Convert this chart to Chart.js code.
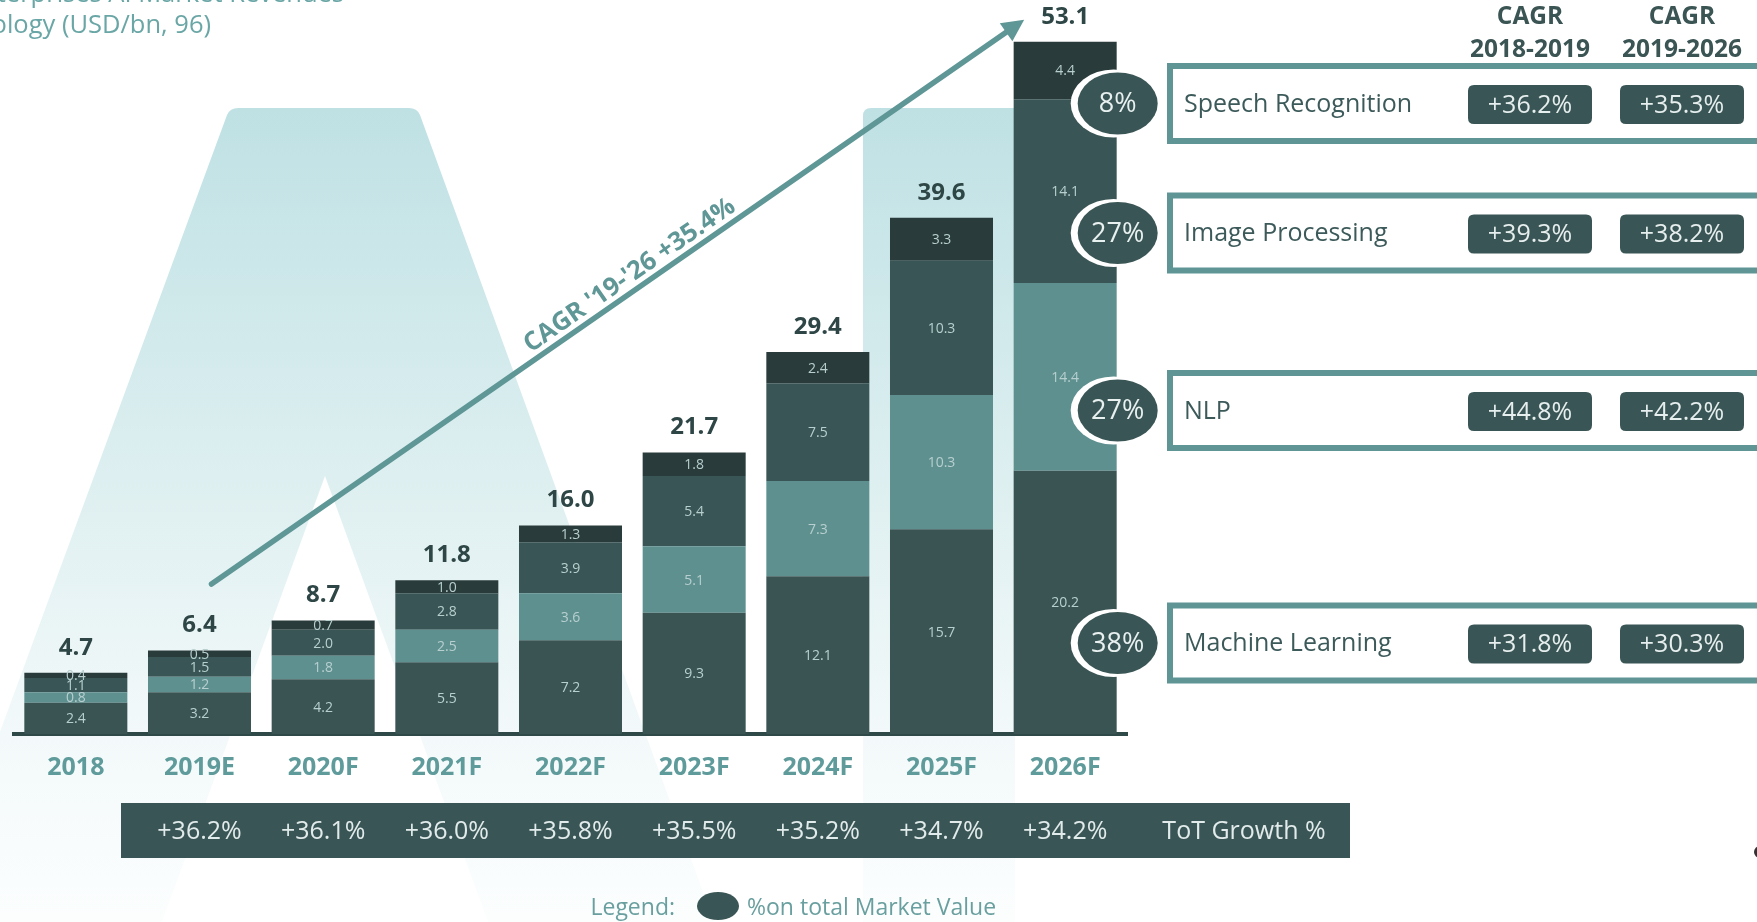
<!DOCTYPE html>
<html>
<head>
<meta charset="utf-8">
<script src="https://cdn.jsdelivr.net/npm/chart.js@4.4.1/dist/chart.umd.min.js"></script>
<style>
  html, body { margin: 0; padding: 0; background: #fff; }
  #wrap { width: 1757px; height: 922px; position: relative; overflow: hidden; }
</style>
</head>
<body>
<div id="wrap"><canvas id="market-chart" width="1757" height="922"></canvas></div>
<script>
// years on the x axis
const years = ['2018', '2019E', '2020F', '2021F', '2022F', '2023F', '2024F', '2025F', '2026F'];

// revenue per technology, USD bn (bottom to top of each stack)
const machineLearning = [2.4, 3.2, 4.2, 5.5, 7.2, 9.3, 12.1, 15.7, 20.2];
const nlp = [0.8, 1.2, 1.8, 2.5, 3.6, 5.1, 7.3, 10.3, 14.4];
const imageProcessing = [1.1, 1.5, 2.0, 2.8, 3.9, 5.4, 7.5, 10.3, 14.1];
const speechRecognition = [0.4, 0.5, 0.7, 1.0, 1.3, 1.8, 2.4, 3.3, 4.4];
const totals = [4.7, 6.4, 8.7, 11.8, 16.0, 21.7, 29.4, 39.6, 53.1];

// year over year growth (2019E .. 2026F)
const totGrowth = ['+36.2%', '+36.1%', '+36.0%', '+35.8%', '+35.5%', '+35.2%', '+34.7%', '+34.2%'];

// right hand table, top to bottom
const techNames = ['Speech Recognition', 'Image Processing', 'NLP', 'Machine Learning'];
const shares = ['8%', '27%', '27%', '38%'];
const cagr1819 = ['+36.2%', '+39.3%', '+44.8%', '+31.8%'];
const cagr1926 = ['+35.3%', '+38.2%', '+42.2%', '+30.3%'];
const cagrLabel = "CAGR '19-'26 +35.4%";

const FONT = '"Open Sans", "DejaVu Sans", sans-serif';
const DARK = '#3a5555';

function pill(ctx, x, y, w, h, r) {
  ctx.beginPath();
  ctx.moveTo(x + r, y);
  ctx.lineTo(x + w - r, y);
  ctx.quadraticCurveTo(x + w, y, x + w, y + r);
  ctx.lineTo(x + w, y + h - r);
  ctx.quadraticCurveTo(x + w, y + h, x + w - r, y + h);
  ctx.lineTo(x + r, y + h);
  ctx.quadraticCurveTo(x, y + h, x, y + h - r);
  ctx.lineTo(x, y + r);
  ctx.quadraticCurveTo(x, y, x + r, y);
  ctx.closePath();
}

// light "A" shapes behind the bars
const backdrop = {
  id: 'backdrop',
  beforeDraw(chart) {
    const ctx = chart.ctx;
    ctx.save();
    const grad = ctx.createLinearGradient(0, 108, 0, 922);
    grad.addColorStop(0, '#bfe1e4');
    grad.addColorStop(0.55, '#e4f2f3');
    grad.addColorStop(0.77, '#f3f9fa');
    grad.addColorStop(1, '#fcfefe');
    ctx.fillStyle = grad;
    ctx.beginPath();
    ctx.moveTo(-70, 922);
    ctx.lineTo(227, 115);
    ctx.quadraticCurveTo(230, 108, 238, 108);
    ctx.lineTo(409, 108);
    ctx.quadraticCurveTo(417, 108, 420, 115);
    ctx.lineTo(714, 922);
    ctx.lineTo(488, 922);
    ctx.lineTo(325, 476);
    ctx.lineTo(162, 922);
    ctx.closePath();
    ctx.fill();

    ctx.beginPath();
    ctx.moveTo(863, 922);
    ctx.lineTo(863, 116);
    ctx.quadraticCurveTo(863, 108, 871, 108);
    ctx.lineTo(1015, 108);
    ctx.lineTo(1015, 922);
    ctx.closePath();
    ctx.fill();
    ctx.restore();
  },
};

const overlay = {
  id: 'overlay',
  afterDatasetsDraw(chart) {
    const ctx = chart.ctx;
    const xs = chart.scales.x;
    const ys = chart.scales.y;
    ctx.save();
    ctx.textAlign = 'center';
    ctx.textBaseline = 'middle';

    // values inside the segments
    ctx.font = '14px ' + FONT;
    ctx.fillStyle = '#b7cfcf';
    chart.data.datasets.forEach((ds, i) => {
      chart.getDatasetMeta(i).data.forEach((bar, j) => {
        ctx.fillText(ds.data[j].toFixed(1), bar.x, (bar.y + bar.base) / 2 + 1);
      });
    });

    // totals above the bars
    const topMeta = chart.getDatasetMeta(chart.data.datasets.length - 1);
    ctx.font = 'bold 24px ' + FONT;
    ctx.fillStyle = '#2e4646';
    topMeta.data.forEach((bar, j) => {
      ctx.fillText(totals[j].toFixed(1), bar.x, bar.y - 25);
    });

    // CAGR arrow
    const sx = xs.getPixelForValue(1) + 12;
    const sy = ys.getPixelForValue(11.5);
    const ex = xs.getPixelForValue(8) - 41;
    const ey = ys.getPixelForValue(53.1) - 22;
    const a = Math.atan2(ey - sy, ex - sx);
    ctx.strokeStyle = '#5f9696';
    ctx.fillStyle = '#5f9696';
    ctx.lineWidth = 5.5;
    ctx.lineCap = 'round';
    ctx.beginPath();
    ctx.moveTo(sx, sy);
    ctx.lineTo(ex - 14 * Math.cos(a), ey - 14 * Math.sin(a));
    ctx.stroke();
    ctx.beginPath();
    ctx.moveTo(ex, ey);
    ctx.lineTo(ex - 22 * Math.cos(a) + 11 * Math.sin(a), ey - 22 * Math.sin(a) - 11 * Math.cos(a));
    ctx.lineTo(ex - 22 * Math.cos(a) - 11 * Math.sin(a), ey - 22 * Math.sin(a) + 11 * Math.cos(a));
    ctx.closePath();
    ctx.fill();

    const t = 0.525;
    const mx = sx + (ex - sx) * t + 15 * Math.sin(a);
    const my = sy + (ey - sy) * t - 15 * Math.cos(a);
    ctx.save();
    ctx.translate(mx, my);
    ctx.rotate(a);
    ctx.font = 'bold 25.5px ' + FONT;
    ctx.fillText(cagrLabel, 0, 0);
    ctx.restore();

    ctx.restore();
  },
  afterDraw(chart) {
    const ctx = chart.ctx;
    const xs = chart.scales.x;
    ctx.save();
    ctx.textBaseline = 'middle';

    // title (cropped at the top left)
    ctx.font = '25.5px ' + FONT;
    ctx.fillStyle = '#6aa6a6';
    ctx.textAlign = 'right';
    ctx.fillText('Enterprises AI Market Revenues', 344, -5);
    ctx.fillText('by Technology (USD/bn, 96)', 211, 26);

    // table on the right
    const rowY = [103.5, 233, 410.5, 643];
    const col1 = 1530;
    const col2 = 1682;
    const lastBar = chart.getDatasetMeta(0).data[8];
    const cx = lastBar.x + lastBar.width / 2;
    ctx.textAlign = 'center';
    ctx.font = 'bold 24.5px ' + FONT;
    ctx.fillStyle = '#3b5454';
    ctx.fillText('CAGR', col1, 17);
    ctx.fillText('2018-2019', col1, 50);
    ctx.fillText('CAGR', col2, 17);
    ctx.fillText('2019-2026', col2, 50);

    rowY.forEach((cy, i) => {
      ctx.lineWidth = 6;
      ctx.strokeStyle = '#5f9595';
      ctx.strokeRect(1170, cy - 37.5, 700, 75);

      ctx.textAlign = 'left';
      ctx.font = '25px ' + FONT;
      ctx.fillStyle = '#3d5a5a';
      ctx.fillText(techNames[i], 1184, cy + 1);

      ctx.fillStyle = DARK;
      pill(ctx, col1 - 62, cy - 18.5, 124, 39, 6);
      ctx.fill();
      pill(ctx, col2 - 62, cy - 18.5, 124, 39, 6);
      ctx.fill();
      ctx.textAlign = 'center';
      ctx.fillStyle = '#e6eeee';
      ctx.fillText(cagr1819[i], col1, cy + 2);
      ctx.fillText(cagr1926[i], col2, cy + 2);

      // share bubble on the 2026 bar
      ctx.fillStyle = '#ffffff';
      ctx.beginPath();
      ctx.ellipse(cx - 3, cy, 43, 34, 0, 0, Math.PI * 2);
      ctx.fill();
      ctx.fillStyle = DARK;
      ctx.beginPath();
      ctx.ellipse(cx + 1, cy, 40, 31, 0, 0, Math.PI * 2);
      ctx.fill();
      ctx.fillStyle = '#e8f0f0';
      ctx.font = '27px ' + FONT;
      ctx.fillText(shares[i], cx + 1, cy + 1);
    });

    // growth band
    ctx.fillStyle = DARK;
    ctx.fillRect(121, 803, 1229, 55);
    ctx.font = '25px ' + FONT;
    ctx.fillStyle = '#e2ebeb';
    totGrowth.forEach((g, i) => {
      ctx.fillText(g, xs.getPixelForValue(i + 1), 832);
    });
    ctx.fillText('ToT Growth %', 1244, 832);

    // legend
    ctx.font = '23px ' + FONT;
    ctx.fillStyle = '#6a9f9f';
    ctx.textAlign = 'right';
    ctx.fillText('Legend:', 675, 908);
    ctx.fillStyle = DARK;
    ctx.beginPath();
    ctx.ellipse(718, 906, 21, 14, 0, 0, Math.PI * 2);
    ctx.fill();
    ctx.fillStyle = '#6a9f9f';
    ctx.textAlign = 'left';
    ctx.fillText('%on total Market Value', 747, 908);

    // cut-off dot at the right edge
    ctx.fillStyle = '#333333';
    ctx.beginPath();
    ctx.arc(1760, 852, 6, 0, Math.PI * 2);
    ctx.fill();
    ctx.restore();
  },
};

const ctx = document.getElementById('market-chart').getContext('2d');
const marketChart = new Chart(ctx, {
  type: 'bar',
  data: {
    labels: years,
    datasets: [
      { label: 'Machine Learning', data: machineLearning, backgroundColor: '#3a5454' },
      { label: 'NLP', data: nlp, backgroundColor: '#5f9090' },
      { label: 'Image Processing', data: imageProcessing, backgroundColor: '#3a5555' },
      { label: 'Speech Recognition', data: speechRecognition, backgroundColor: '#2a3b3b' },
    ],
  },
  options: {
    responsive: false,
    animation: false,
    layout: { padding: { left: 14, right: 630, top: 17, bottom: 120 } },
    datasets: { bar: { categoryPercentage: 1, barPercentage: 0.833 } },
    plugins: { legend: { display: false }, tooltip: { enabled: false } },
    scales: {
      x: {
        stacked: true,
        grid: { display: false, drawTicks: false },
        border: { display: true, color: '#2f4848', width: 4 },
        ticks: {
          color: '#5f9b9b',
          padding: 19,
          font: { family: FONT, size: 25, weight: 'bold' },
        },
      },
      y: { stacked: true, display: false, min: 0, max: 55 },
    },
  },
  plugins: [backdrop, overlay],
});
</script>
</body>
</html>
